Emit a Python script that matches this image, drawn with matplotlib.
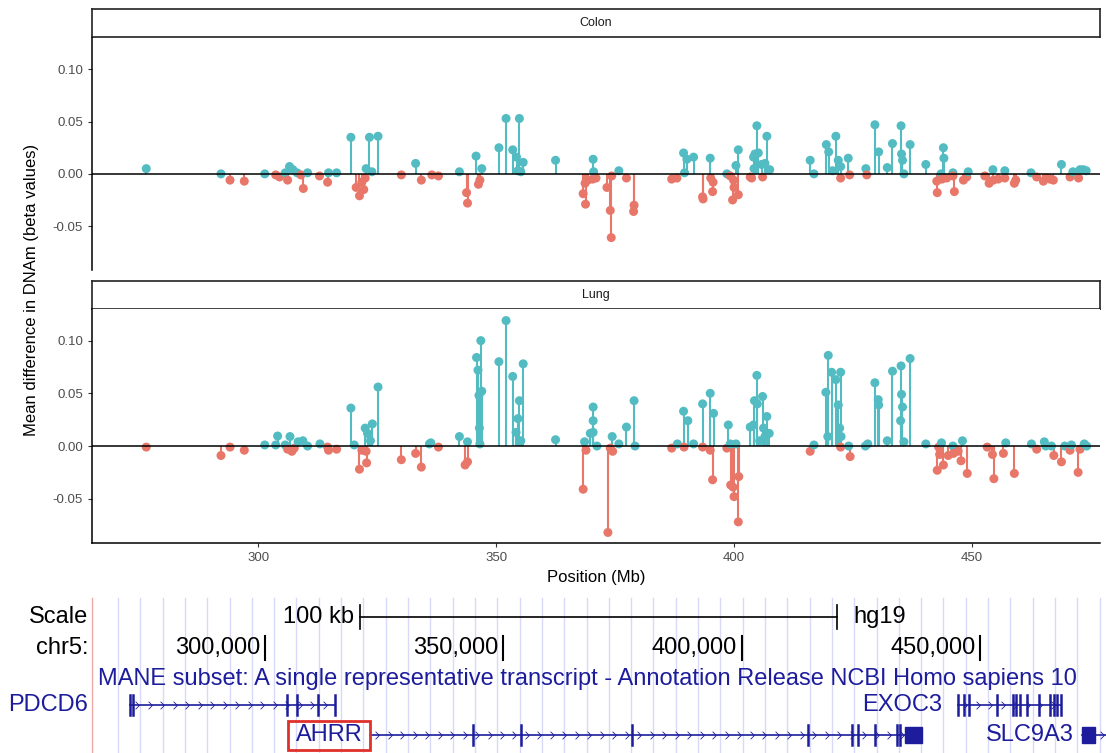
import matplotlib
matplotlib.use("Agg")
import matplotlib.pyplot as plt
from matplotlib.patches import Rectangle
from matplotlib.path import Path
import numpy as np

plt.rcParams['font.family'] = ['Liberation Sans', 'DejaVu Sans']

# CpG positions (Mb axis units) and mean DNAm differences
colon_pos = [276.5, 292.2, 294.1, 297.1, 301.4, 303.7, 304.5, 305.7, 306.2, 306.6,
             307.3, 308.2, 309.5, 309.0, 310.4, 312.9, 314.6, 314.8, 316.5, 319.5,
             320.6, 321.3, 321.8, 322.2, 322.5, 322.7, 323.4, 323.9, 325.2, 330.1,
             333.1, 334.3, 336.5, 337.9, 342.3, 343.8, 344.0, 345.8, 346.3, 346.6,
             347.0, 350.6, 352.1, 353.5, 354.3, 354.6, 354.9, 355.2, 355.7, 362.5,
             368.3, 368.7, 368.8, 369.3, 370.3, 370.4, 370.5, 371.0, 373.3, 374.0,
             374.2, 374.3, 375.8, 377.4, 378.9, 379.0, 386.9, 388.0, 389.4, 389.6,
             390.1, 391.5, 393.4, 393.5, 395.0, 395.1, 395.6, 395.5, 398.5, 399.2,
             399.9, 400.0, 399.7, 400.9, 400.4, 400.9, 403.4, 403.7, 404.1, 404.2,
             404.4, 404.8, 405.1, 405.8, 406.5, 406.9, 407.5, 406.0, 416.0, 416.8,
             419.4, 419.9, 420.7, 421.4, 421.9, 422.4, 422.4, 424.0, 424.3, 427.7,
             427.9, 429.6, 430.4, 432.2, 433.3, 435.1, 435.2, 435.4, 435.7, 437.0,
             440.3, 442.7, 442.6, 443.5, 443.7, 444.0, 444.1, 444.7, 446.0, 446.3,
             446.0, 448.2, 448.9, 449.2, 452.7, 453.6, 454.5, 454.4, 455.5, 456.9,
             456.9, 458.9, 459.2, 462.4, 463.6, 465.0, 465.7, 466.4, 467.1, 468.8,
             470.6, 471.2, 472.4, 472.7, 473.4, 474.0]
colon_val = [0.005, 0.000, -0.006, -0.007, 0.000, -0.001, -0.003, 0.001, -0.006, 0.007,
             0.004, 0.001, -0.014, -0.001, 0.001, -0.002, -0.008, 0.001, 0.001, 0.035,
             -0.013, -0.021, -0.008, -0.015, -0.004, 0.005, 0.035, 0.002, 0.036, -0.001,
             0.010, -0.006, -0.001, -0.002, 0.002, -0.018, -0.028, 0.017, -0.010, -0.006,
             0.005, 0.025, 0.053, 0.023, 0.016, 0.003, 0.053, 0.002, 0.011, 0.013,
             -0.019, -0.009, -0.029, -0.006, -0.005, 0.014, 0.002, -0.004, -0.013, -0.035,
             -0.061, -0.002, 0.003, -0.004, -0.036, -0.030, -0.005, -0.004, 0.020, 0.001,
             0.014, 0.016, -0.022, -0.024, 0.015, -0.004, -0.008, -0.017, 0.000, -0.002,
             -0.006, -0.013, -0.025, -0.020, 0.008, 0.023, -0.003, -0.004, 0.016, 0.005,
             0.019, 0.046, 0.020, 0.009, 0.010, 0.036, 0.004, -0.003, 0.013, 0.000,
             0.028, 0.021, 0.003, 0.036, 0.013, 0.007, -0.004, 0.015, -0.001, 0.005,
             -0.001, 0.047, 0.021, 0.006, 0.029, 0.046, 0.019, 0.013, 0.000, 0.028,
             0.009, -0.018, -0.007, 0.000, -0.005, 0.025, 0.015, -0.004, 0.001, -0.017,
             -0.002, -0.006, -0.003, 0.002, -0.002, -0.009, -0.006, 0.004, -0.005, -0.004,
             0.003, -0.009, -0.006, 0.001, -0.003, -0.007, -0.004, -0.005, -0.006, 0.009,
             -0.003, 0.002, -0.004, 0.004, 0.004, 0.003]

lung_pos = [276.5, 292.2, 294.1, 297.1, 301.4, 303.7, 304.1, 305.7, 306.2, 306.7,
            307.1, 307.6, 308.4, 309.4, 310.4, 313.0, 314.6, 314.8, 316.5, 319.5,
            320.2, 321.3, 321.8, 322.5, 322.7, 322.8, 323.0, 323.6, 324.0, 325.2,
            330.1, 333.1, 334.3, 336.0, 336.3, 337.9, 342.3, 343.5, 344.0, 344.0,
            345.9, 346.2, 346.4, 346.5, 346.6, 346.8, 347.0, 350.6, 352.1, 353.5,
            354.2, 354.6, 354.9, 355.2, 355.7, 362.5, 368.3, 368.6, 368.9, 369.8,
            370.4, 370.4, 370.4, 371.2, 373.5, 374.0, 374.4, 374.5, 375.8, 377.4,
            379.0, 379.2, 386.9, 388.1, 389.4, 389.5, 390.3, 391.5, 393.4, 393.4,
            395.0, 395.0, 395.7, 395.5, 398.5, 398.8, 399.2, 399.3, 400.0, 399.8,
            400.9, 401.0, 400.4, 403.4, 404.3, 404.9, 404.8, 404.1, 405.4, 406.0,
            406.2, 406.5, 406.9, 407.4, 416.0, 416.8, 419.3, 419.7, 419.8, 420.5,
            421.4, 421.9, 422.2, 422.4, 422.5, 422.4, 424.1, 424.4, 427.6, 428.1,
            429.6, 430.3, 430.4, 432.2, 433.3, 435.0, 435.1, 435.2, 435.4, 435.7,
            437.0, 440.3, 442.7, 443.0, 443.2, 443.6, 444.0, 445.0, 446.0, 446.1,
            447.1, 448.0, 447.7, 449.0, 453.2, 454.3, 454.6, 457.1, 456.6, 458.9,
            462.5, 463.6, 465.2, 465.5, 466.7, 467.2, 468.8, 469.5, 470.6, 470.9,
            472.3, 472.7, 473.6, 474.1]
lung_val = [-0.001, -0.009, -0.001, -0.004, 0.001, 0.001, 0.0095, 0.001, -0.003, 0.009,
            -0.005, -0.002, 0.004, 0.005, 0.000, 0.002, -0.001, -0.004, -0.003, 0.036,
            0.001, -0.022, -0.004, 0.017, -0.005, -0.016, 0.012, 0.005, 0.021, 0.056,
            -0.013, -0.007, -0.020, 0.002, 0.003, -0.001, 0.009, -0.018, -0.015, 0.004,
            0.084, 0.072, 0.048, 0.017, 0.002, 0.100, 0.052, 0.080, 0.119, 0.066,
            0.013, 0.026, 0.043, 0.005, 0.078, 0.006, -0.041, 0.004, -0.004, 0.012,
            0.037, 0.024, 0.013, 0.000, -0.082, -0.002, 0.009, -0.005, 0.002, 0.018,
            0.043, 0.000, -0.002, 0.002, 0.033, -0.001, 0.024, 0.002, 0.040, -0.001,
            0.050, -0.004, 0.031, -0.032, -0.002, 0.020, 0.002, -0.037, -0.048, -0.039,
            -0.072, -0.029, 0.002, 0.018, 0.043, 0.040, 0.067, 0.020, 0.005, 0.047,
            0.017, 0.009, 0.028, 0.012, -0.005, 0.001, 0.051, 0.009, 0.086, 0.070,
            0.063, 0.039, 0.017, 0.070, 0.009, -0.001, 0.000, -0.010, 0.000, 0.002,
            0.060, 0.044, 0.039, 0.005, 0.071, 0.024, 0.076, 0.049, 0.037, 0.004,
            0.083, 0.002, -0.023, -0.001, -0.008, 0.003, -0.018, -0.009, 0.000, -0.007,
            -0.005, 0.005, -0.014, -0.026, -0.001, -0.008, -0.031, 0.003, -0.007, -0.026,
            0.002, -0.003, 0.004, 0.000, 0.000, -0.009, -0.015, 0.000, -0.004, 0.001,
            -0.025, -0.003, 0.002, 0.000]

x_ticks = [300, 350, 400, 450]
y_ticks = [-0.05, 0.00, 0.05, 0.10]

# genome browser track (kb)
scale_bar = [320.0, 420.0]
chr_ticks = [300, 350, 400, 450]
chr_labels = ["300,000", "350,000", "400,000", "450,000"]
genes = ["PDCD6", "AHRR", "EXOC3", "SLC9A3"]
gene_start = [271.7, 322.0, 445.4, 471.4]
gene_end = [314.7, 437.8, 467.0, 476.4]
gene_exons = [
    [271.7, 272.3, 304.6, 306.7, 311.1, 314.7],
    [343.6, 353.7, 377.0, 413.9, 423.1, 424.4, 428.0, 432.6, 433.2],
    [445.4, 446.6, 447.7, 453.5, 456.9, 457.5, 458.4, 459.8, 462.4, 464.7, 465.5, 466.1, 467.0],
    [],
]
gene_blocks = [None, (434.2, 437.8), None, (471.4, 474.1)]

TEAL = '#52BCC2'
RED = '#E8776A'
NAVY = '#1c1c9c'
W, H = 1106, 753
TRACK_FS = 17

fig = plt.figure(figsize=(W / 100, H / 100), dpi=100)


def px_rect(x0, y0, x1, y1):
    return [x0 / W, 1 - y1 / H, (x1 - x0) / W, (y1 - y0) / H]


def strip(y0, y1, label):
    s = fig.add_axes(px_rect(92, y0, 1100, y1))
    s.set_xticks([]); s.set_yticks([])
    for sp in s.spines.values():
        sp.set_linewidth(1.2)
        sp.set_color('#222222')
    s.text(0.5, 0.5, label, ha='center', va='center', fontsize=9, color='#1a1a1a',
           transform=s.transAxes)


def panel(y0, y1, pos, val, bottom):
    ax = fig.add_axes(px_rect(92, y0, 1100, y1))
    pos = np.array(pos)
    val = np.array(val)
    cols = np.where(val >= 0, TEAL, RED)
    ax.vlines(pos, 0, val, colors=cols, lw=1.5, zorder=2)
    ax.scatter(pos, val, c=cols, s=42, linewidths=0, zorder=3)
    ax.axhline(0, color='black', lw=1.1, zorder=4)
    ax.set_xlim(265.1, 476.9)
    ax.set_ylim(-0.092, 0.130)
    ax.set_yticks(y_ticks)
    ax.set_yticklabels([f"{v:.2f}" for v in y_ticks])
    for k in ['top', 'right']:
        ax.spines[k].set_visible(False)
    ax.spines['left'].set_linewidth(1.1)
    ax.tick_params(colors='#333333', labelcolor='#4D4D4D', labelsize=9.5, length=3, width=0.8)
    if bottom:
        ax.spines['bottom'].set_linewidth(1.1)
        ax.set_xticks(x_ticks)
        ax.set_xlabel("Position (Mb)", fontsize=12, labelpad=4)
    else:
        ax.spines['bottom'].set_visible(False)
        ax.set_xticks([])
    return ax


strip(9, 37, "Colon")
panel(38, 270, colon_pos, colon_val, False)
strip(281, 309, "Lung")
panel(309, 543, lung_pos, lung_val, True)
fig.text(32 / W, 1 - 290 / H, "Mean difference in DNAm (beta values)", rotation=90,
         ha='center', va='center', fontsize=12)

# UCSC-style track below
tr = fig.add_axes([0, 0, 1, 163 / H])
tr.set_xlim(244.4, 476.4)
tr.set_ylim(163, 0)
tr.axis('off')
kbpx = 4.767
lx = 244.4 + 88 / kbpx

for g in np.arange(269.15, 476.4, 4.68):
    tr.plot([g, g], [8, 163], color='#d8d8fb', lw=1, zorder=0)
tr.plot([lx + 0.8, lx + 0.8], [8, 163], color='#f2a5a5', lw=1, zorder=0)

tr.text(lx, 27, "Scale", ha='right', va='center', fontsize=TRACK_FS)
tr.text(lx, 58, "chr5:", ha='right', va='center', fontsize=TRACK_FS)
tr.plot(scale_bar, [27, 27], color='black', lw=1.2)
for b in scale_bar:
    tr.plot([b, b], [15, 39], color='black', lw=1.2)
tr.text(scale_bar[0] - 1.4, 27, "100 kb", ha='right', va='center', fontsize=TRACK_FS)
tr.text(scale_bar[1] + 3.4, 27, "hg19", ha='left', va='center', fontsize=TRACK_FS)
for t, lab in zip(chr_ticks, chr_labels):
    tr.plot([t, t], [46, 70], color='black', lw=1.5)
    tr.text(t - 1.0, 58, lab, ha='right', va='center', fontsize=TRACK_FS)
tr.text(244.4 + 98 / kbpx, 89, "MANE subset: A single representative transcript - Annotation Release NCBI Homo sapiens 10",
        ha='left', va='center', fontsize=TRACK_FS, color=NAVY, clip_on=False)

chevron = Path([(-0.5, 1), (0.5, 0), (-0.5, -1)], [Path.MOVETO, Path.LINETO, Path.LINETO])
rows = [115, 145, 115, 145]
label_x = [lx, None, 442.0, 469.7]
for i, name in enumerate(genes):
    y = rows[i]
    tr.plot([gene_start[i], gene_end[i]], [y, y], color=NAVY, lw=1.2, zorder=2)
    ch = np.arange(gene_start[i] + 1.5, gene_end[i] - 0.5, 2.62)
    if gene_blocks[i] is not None:
        ch = ch[(ch < gene_blocks[i][0] - 0.5) | (ch > gene_blocks[i][1] + 0.5)]
    tr.plot(ch, np.full(len(ch), y), linestyle='none', marker=chevron, markersize=5.5,
            markeredgewidth=0.6, markeredgecolor=NAVY, fillstyle='none', zorder=2)
    for e in gene_exons[i]:
        tr.plot([e, e], [y - 10, y + 10], color=NAVY, lw=1.8, zorder=3)
    if gene_blocks[i] is not None:
        b0, b1 = gene_blocks[i]
        tr.add_patch(Rectangle((b0, y - 8), b1 - b0, 16, color=NAVY, zorder=3))
    if label_x[i] is not None:
        tr.text(label_x[i], y, name, ha='right', va='center', fontsize=TRACK_FS, color=NAVY)

# boxed AHRR label
tr.text(244.4 + 329 / kbpx, 145, "AHRR", ha='center', va='center', fontsize=TRACK_FS, color=NAVY)
tr.add_patch(Rectangle((244.4 + 288 / kbpx, 131), 82 / kbpx, 29, fill=False,
                       edgecolor='#e0302a', lw=2, zorder=4))

fig.savefig("out.png", dpi=100)
